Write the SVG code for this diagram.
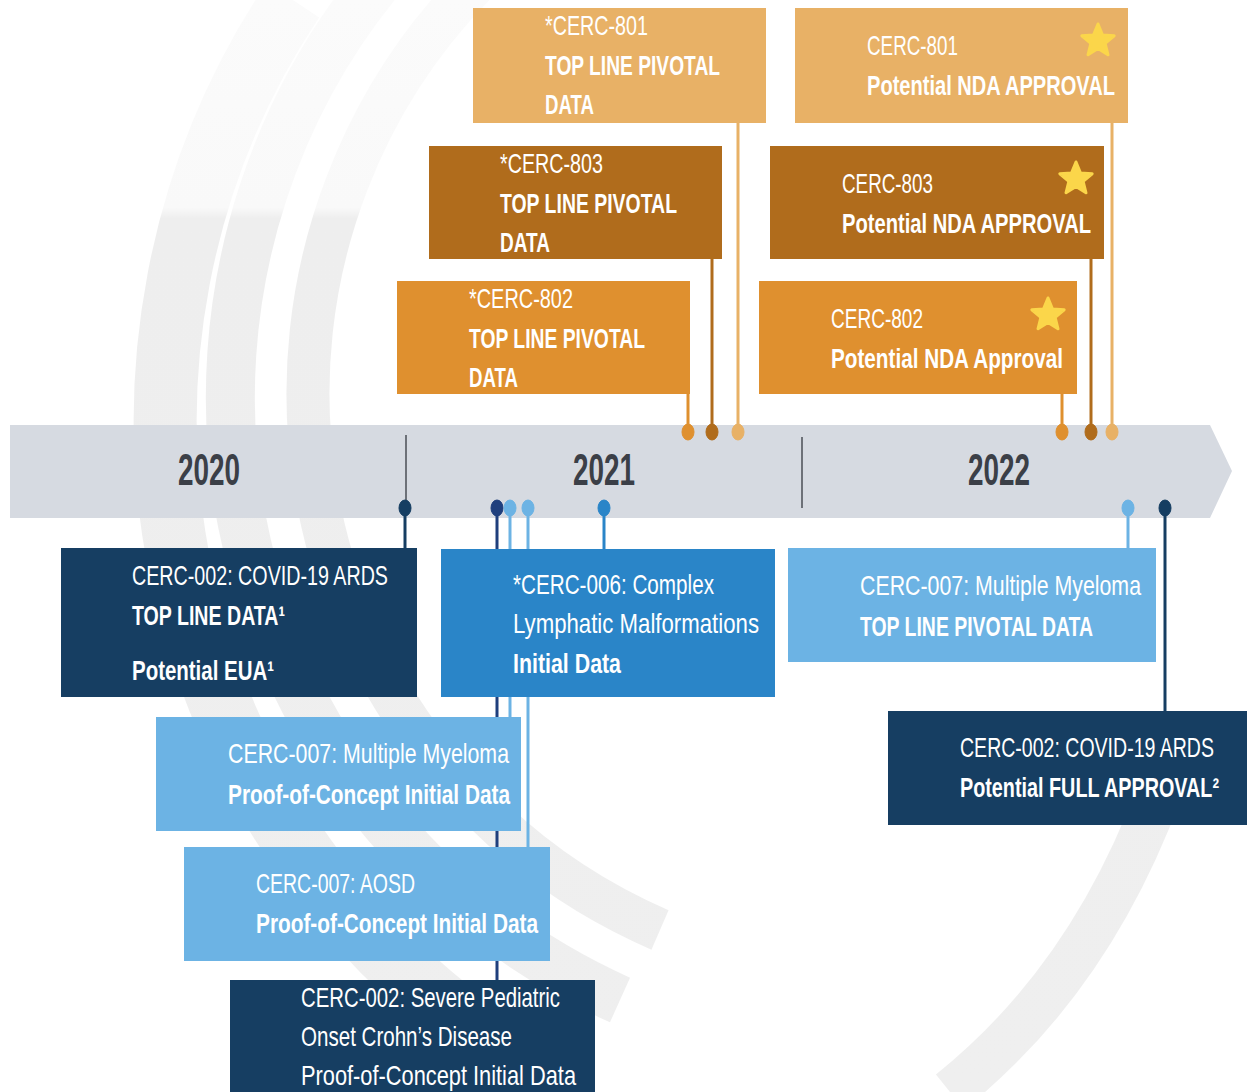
<svg xmlns="http://www.w3.org/2000/svg" width="1247" height="1092" viewBox="0 0 1247 1092">
  <defs>
    <linearGradient id="fade" gradientUnits="userSpaceOnUse" x1="0" y1="0" x2="0" y2="1092">
      <stop offset="0" stop-color="#fbfbfb"/>
      <stop offset="0.19" stop-color="#f9f9f9"/>
      <stop offset="0.2" stop-color="#eeeeee"/>
      <stop offset="1" stop-color="#efefef"/>
    </linearGradient>
    <path id="star" d="M0,-17 L4.41,-6.07 L16.17,-5.25 L7.13,2.32 L9.99,13.75 L0,7.5 L-9.99,13.75 L-7.13,2.32 L-16.17,-5.25 L-4.41,-6.07 Z"/>
    <style>
      .lbl { font-family: "Liberation Sans", Arial, sans-serif; font-size: 28px; fill: #ffffff; }
      .b { font-weight: bold; }
      .yr { font-family: "Liberation Sans", Arial, sans-serif; font-size: 44px; font-weight: bold; fill: #3b3f47; }
      .conn { stroke-width: 3; fill: none; }
      .arc { fill: none; stroke: url(#fade); }
      .star { fill: #fbd64a; stroke: #fbd64a; stroke-width: 3; stroke-linejoin: round; }
      .lo { fill: #e8b166; stroke: #e8b166; }
      .br { fill: #b06c1c; stroke: #b06c1c; }
      .or { fill: #df902f; stroke: #df902f; }
      .nv { fill: #163e62; stroke: #163e62; }
      .rb { fill: #1f3f7d; stroke: #1f3f7d; }
      .lb { fill: #6cb3e4; stroke: #6cb3e4; }
      .mb { fill: #2a85c8; stroke: #2a85c8; }
      .div { stroke: #6d7178; stroke-width: 2; }
    </style>
  </defs>

  <rect x="0" y="0" width="1247" height="1092" fill="#ffffff"/>

  <g id="background">
    <path class="arc" stroke-width="63" d="M 293 0 A 755 755 0 0 0 576 1092"/>
    <path class="arc" stroke-width="49" d="M 415 -60 A 660 660 0 0 0 620 1000"/>
    <path class="arc" stroke-width="43" d="M 500 -40 A 585 585 0 0 0 660 930"/>
    <path class="arc" stroke-width="45" d="M 1160 790 Q 1090 980 950 1092"/>
  </g>

  <g id="timeline">
    <polygon points="10,425 1210,425 1232,471 1210,518 10,518" fill="#d6dae1"/>
    <line class="div" x1="406" y1="435" x2="406" y2="505"/>
    <line class="div" x1="802" y1="437" x2="802" y2="508"/>
    <text class="yr" x="209" y="485" text-anchor="middle" textLength="62" lengthAdjust="spacingAndGlyphs">2020</text>
    <text class="yr" x="604" y="485" text-anchor="middle" textLength="62" lengthAdjust="spacingAndGlyphs">2021</text>
    <text class="yr" x="999" y="485" text-anchor="middle" textLength="62" lengthAdjust="spacingAndGlyphs">2022</text>
  </g>

  <g id="connectors">
    <line class="conn or" x1="688" y1="394" x2="688" y2="432"/>
    <ellipse class="or" cx="688" cy="432" rx="6" ry="8"/>
    <line class="conn br" x1="712" y1="259" x2="712" y2="432"/>
    <ellipse class="br" cx="712" cy="432" rx="6" ry="8"/>
    <line class="conn lo" x1="738" y1="123" x2="738" y2="432"/>
    <ellipse class="lo" cx="738" cy="432" rx="6" ry="8"/>
    <line class="conn or" x1="1062" y1="394" x2="1062" y2="432"/>
    <ellipse class="or" cx="1062" cy="432" rx="6" ry="8"/>
    <line class="conn br" x1="1091" y1="259" x2="1091" y2="432"/>
    <ellipse class="br" cx="1091" cy="432" rx="6" ry="8"/>
    <line class="conn lo" x1="1112" y1="123" x2="1112" y2="432"/>
    <ellipse class="lo" cx="1112" cy="432" rx="6" ry="8"/>

    <line class="conn nv" x1="405" y1="508" x2="405" y2="548"/>
    <ellipse class="nv" cx="405" cy="508" rx="6" ry="8"/>
    <line class="conn rb" x1="497" y1="508" x2="497" y2="980"/>
    <ellipse class="rb" cx="497" cy="508" rx="6" ry="8"/>
    <line class="conn lb" x1="510" y1="508" x2="510" y2="717"/>
    <ellipse class="lb" cx="510" cy="508" rx="6" ry="8"/>
    <line class="conn lb" x1="528" y1="508" x2="528" y2="847"/>
    <ellipse class="lb" cx="528" cy="508" rx="6" ry="8"/>
    <line class="conn mb" x1="604" y1="508" x2="604" y2="549"/>
    <ellipse class="mb" cx="604" cy="508" rx="6" ry="8"/>
    <line class="conn lb" x1="1128" y1="508" x2="1128" y2="548"/>
    <ellipse class="lb" cx="1128" cy="508" rx="6" ry="8"/>
    <line class="conn nv" x1="1165" y1="508" x2="1165" y2="711"/>
    <ellipse class="nv" cx="1165" cy="508" rx="6" ry="8"/>
  </g>

  <g id="n-tl801">
    <rect x="473" y="8" width="293" height="115" fill="#e8b166"/>
    <text class="lbl" x="545" y="35" textLength="103" lengthAdjust="spacingAndGlyphs">*CERC-801</text>
    <text class="lbl b" x="545" y="75" textLength="175" lengthAdjust="spacingAndGlyphs">TOP LINE PIVOTAL</text>
    <text class="lbl b" x="545" y="114" textLength="49" lengthAdjust="spacingAndGlyphs">DATA</text>
  </g>
  <g id="n-tl803">
    <rect x="429" y="146" width="293" height="113" fill="#b06c1c"/>
    <text class="lbl" x="500" y="173" textLength="103" lengthAdjust="spacingAndGlyphs">*CERC-803</text>
    <text class="lbl b" x="500" y="213" textLength="177" lengthAdjust="spacingAndGlyphs">TOP LINE PIVOTAL</text>
    <text class="lbl b" x="500" y="252" textLength="50" lengthAdjust="spacingAndGlyphs">DATA</text>
  </g>
  <g id="n-tl802">
    <rect x="397" y="281" width="293" height="113" fill="#df902f"/>
    <text class="lbl" x="469" y="308" textLength="104" lengthAdjust="spacingAndGlyphs">*CERC-802</text>
    <text class="lbl b" x="469" y="348" textLength="176" lengthAdjust="spacingAndGlyphs">TOP LINE PIVOTAL</text>
    <text class="lbl b" x="469" y="387" textLength="49" lengthAdjust="spacingAndGlyphs">DATA</text>
  </g>

  <g id="n-nda801">
    <rect x="795" y="8" width="333" height="115" fill="#e8b166"/>
    <text class="lbl" x="867" y="55" textLength="91" lengthAdjust="spacingAndGlyphs">CERC-801</text>
    <text class="lbl b" x="867" y="95" textLength="248" lengthAdjust="spacingAndGlyphs">Potential NDA APPROVAL</text>
    <use href="#star" class="star" x="1098" y="41"/>
  </g>
  <g id="n-nda803">
    <rect x="770" y="146" width="334" height="113" fill="#b06c1c"/>
    <text class="lbl" x="842" y="193" textLength="91" lengthAdjust="spacingAndGlyphs">CERC-803</text>
    <text class="lbl b" x="842" y="233" textLength="249" lengthAdjust="spacingAndGlyphs">Potential NDA APPROVAL</text>
    <use href="#star" class="star" x="1076" y="179"/>
  </g>
  <g id="n-nda802">
    <rect x="759" y="281" width="318" height="113" fill="#df902f"/>
    <text class="lbl" x="831" y="328" textLength="92" lengthAdjust="spacingAndGlyphs">CERC-802</text>
    <text class="lbl b" x="831" y="368" textLength="232" lengthAdjust="spacingAndGlyphs">Potential NDA Approval</text>
    <use href="#star" class="star" x="1048" y="315"/>
  </g>

  <g id="n-covid-tl">
    <rect x="61" y="548" width="356" height="149" fill="#163e62"/>
    <text class="lbl" x="132" y="585" textLength="256" lengthAdjust="spacingAndGlyphs">CERC-002: COVID-19 ARDS</text>
    <text class="lbl b" x="132" y="625" textLength="153" lengthAdjust="spacingAndGlyphs">TOP LINE DATA¹</text>
    <text class="lbl b" x="132" y="680" textLength="142" lengthAdjust="spacingAndGlyphs">Potential EUA¹</text>
  </g>
  <g id="n-cerc006">
    <rect x="441" y="549" width="334" height="148" fill="#2a85c8"/>
    <text class="lbl" x="513" y="594" textLength="201" lengthAdjust="spacingAndGlyphs">*CERC-006: Complex</text>
    <text class="lbl" x="513" y="633" textLength="246" lengthAdjust="spacingAndGlyphs">Lymphatic Malformations</text>
    <text class="lbl b" x="513" y="673" textLength="108" lengthAdjust="spacingAndGlyphs">Initial Data</text>
  </g>
  <g id="n-mm-pivotal">
    <rect x="788" y="548" width="368" height="114" fill="#6cb3e4"/>
    <text class="lbl" x="860" y="595" textLength="281" lengthAdjust="spacingAndGlyphs">CERC-007: Multiple Myeloma</text>
    <text class="lbl b" x="860" y="636" textLength="233" lengthAdjust="spacingAndGlyphs">TOP LINE PIVOTAL DATA</text>
  </g>
  <g id="n-covid-full">
    <rect x="888" y="711" width="359" height="114" fill="#163e62"/>
    <text class="lbl" x="960" y="757" textLength="254" lengthAdjust="spacingAndGlyphs">CERC-002: COVID-19 ARDS</text>
    <text class="lbl b" x="960" y="797" textLength="259" lengthAdjust="spacingAndGlyphs">Potential FULL APPROVAL²</text>
  </g>
  <g id="n-mm-poc">
    <rect x="156" y="717" width="365" height="114" fill="#6cb3e4"/>
    <text class="lbl" x="228" y="763" textLength="281" lengthAdjust="spacingAndGlyphs">CERC-007: Multiple Myeloma</text>
    <text class="lbl b" x="228" y="804" textLength="282" lengthAdjust="spacingAndGlyphs">Proof-of-Concept Initial Data</text>
  </g>
  <g id="n-aosd">
    <rect x="184" y="847" width="366" height="114" fill="#6cb3e4"/>
    <text class="lbl" x="256" y="893" textLength="159" lengthAdjust="spacingAndGlyphs">CERC-007: AOSD</text>
    <text class="lbl b" x="256" y="933" textLength="282" lengthAdjust="spacingAndGlyphs">Proof-of-Concept Initial Data</text>
  </g>
  <g id="n-crohn">
    <rect x="230" y="980" width="365" height="112" fill="#163e62"/>
    <text class="lbl" x="301" y="1007" textLength="259" lengthAdjust="spacingAndGlyphs">CERC-002: Severe Pediatric</text>
    <text class="lbl" x="301" y="1046" textLength="211" lengthAdjust="spacingAndGlyphs">Onset Crohn’s Disease</text>
    <text class="lbl" x="301" y="1085" textLength="275" lengthAdjust="spacingAndGlyphs">Proof-of-Concept Initial Data</text>
  </g>
</svg>
